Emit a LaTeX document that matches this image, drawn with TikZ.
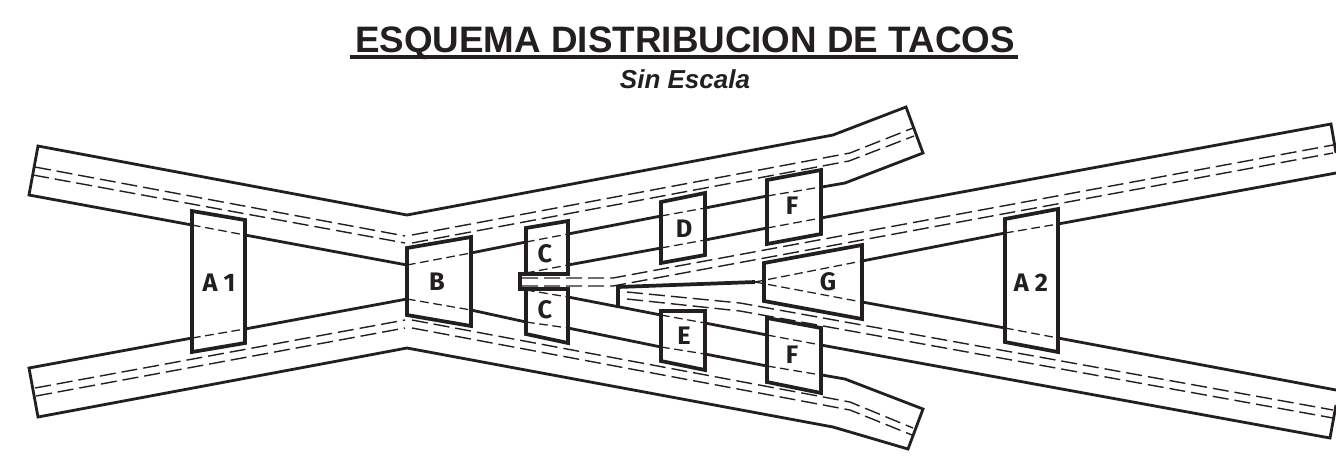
\documentclass[tikz,border=0pt]{standalone}
\usepackage{fontspec}
\setmainfont{Liberation Sans}
\newfontfamily\lblfont{Fira Sans}
\definecolor{ink}{HTML}{231F20}
\tikzset{x=0.75pt,y=-0.75pt,
  road/.style={draw=ink,line width=2.1pt,line join=miter},
  boxline/.style={draw=ink,line width=2.8pt,line join=miter},
  axisline/.style={draw=ink,line width=1.05pt,dash pattern=on 12pt off 4.5pt},
  inner/.style={draw=ink,line width=0.95pt,dash pattern=on 6.5pt off 3.5pt},
  lbl/.style={font=\lblfont\bfseries\fontsize{19}{20}\selectfont,text=ink,inner sep=0pt}}
\begin{document}
\begin{tikzpicture}
\useasboundingbox (0,0) rectangle (1336,462);
% titles
\node[font=\bfseries\fontsize{27.6}{30}\selectfont,text=ink,inner sep=0pt,anchor=base] (title) at (685,52) {ESQUEMA DISTRIBUCION DE TACOS};
\draw[draw=ink,line width=3pt] (350,57) -- (1018,57);
\node[font=\bfseries\itshape\fontsize{19.5}{22}\selectfont,text=ink,inner sep=0pt,anchor=base] (sub) at (685,88) {Sin Escala};
% outer road outlines
\draw[road] (192,225) -- (29,195) -- (38,146) -- (407,215) -- (833,135) -- (906,107) -- (923,153) -- (845,183) -- (822,187);
\draw[road] (245,235) -- (407,265);
\draw[road] (192,338) -- (29,368) -- (38,417) -- (407,348) -- (833,427) -- (908,449) -- (923,409) -- (845,379) -- (822,375);
\draw[road] (245,329) -- (407,299);
% upper branch
\draw[road] (471,253) -- (526,242);
\draw[road] (568,234) -- (661,216);
\draw[road] (705,208) -- (767,196);
% lower branch
\draw[road] (471,310) -- (526,322);
\draw[road] (568,328) -- (661,347);
\draw[road] (705,354) -- (767,366);
% through road, top side
\draw[road] (568,265) -- (661,248);
\draw[road] (705,240) -- (767,228);
\draw[road] (821,218) -- (1331,124) -- (1336,153);
\draw[road] (1336,173) -- (1058,224);
\draw[road] (1005,233) -- (862,261);
% through road, bottom side
\draw[road] (862,302) -- (1005,328);
\draw[road] (1058,338) -- (1336,390);
\draw[road] (1336,405) -- (1330,438) -- (821,345);
\draw[road] (767,335) -- (705,323);
\draw[road] (661,315) -- (568,297);
% centre wedge
\draw[boxline] (618,307) -- (618,287) -- (755,282);
% slit
\draw[boxline] (568,274) -- (520,274) -- (520,289) -- (568,289);
% double axis lines
\draw[axisline] (35,167) -- (405,236);
\draw[axisline] (33,175) -- (405,243);
\draw[axisline] (35,388) -- (405,320);
\draw[axisline] (36,396) -- (405,328);
\draw[axisline] (412,235) -- (850,153) -- (913,128);
\draw[axisline] (412,243) -- (849,161) -- (914,136);
\draw[axisline] (412,320) -- (850,402) -- (913,428);
\draw[axisline] (412,328) -- (850,410) -- (912,435);
\draw[axisline] (522,278) -- (613,278) -- (1333,145);
\draw[axisline] (522,286) -- (613,286) -- (1333,153);
\draw[axisline] (627,292) -- (740,303) -- (1333,410);
\draw[axisline] (627,299) -- (740,311) -- (1333,418);
% dashed road edges inside boxes
\draw[inner] (192,225) -- (245,235);
\draw[inner] (192,338) -- (245,329);
\draw[inner] (407,265) -- (471,253);
\draw[inner] (407,299) -- (471,310);
\draw[inner] (526,242) -- (568,234);
\draw[inner] (526,273) -- (568,265);
\draw[inner] (526,290) -- (568,297);
\draw[inner] (526,322) -- (568,328);
\draw[inner] (661,216) -- (705,208);
\draw[inner] (661,248) -- (705,240);
\draw[inner] (661,315) -- (705,323);
\draw[inner] (661,347) -- (705,354);
\draw[inner] (767,196) -- (821,187);
\draw[inner] (767,228) -- (821,218);
\draw[inner] (767,335) -- (821,345);
\draw[inner] (767,366) -- (821,375);
\draw[inner] (755,282) -- (862,261);
\draw[inner] (755,282) -- (862,302);
\draw[inner] (1005,233) -- (1058,224);
\draw[inner] (1005,328) -- (1058,338);
% boxes
\draw[boxline] (192,211) -- (245,220) -- (245,343) -- (192,352) -- cycle;
\draw[boxline] (407,248) -- (471,237) -- (471,326) -- (407,315) -- cycle;
\draw[boxline] (526,228) -- (568,221) -- (568,274) -- (526,274) -- cycle;
\draw[boxline] (526,289) -- (568,289) -- (568,343) -- (526,334) -- cycle;
\draw[boxline] (661,202) -- (705,193) -- (705,255) -- (661,263) -- cycle;
\draw[boxline] (661,311) -- (705,311) -- (705,370) -- (661,361) -- cycle;
\draw[boxline] (767,180) -- (821,170) -- (821,234) -- (767,244) -- cycle;
\draw[boxline] (767,318) -- (821,328) -- (821,393) -- (767,382) -- cycle;
\draw[boxline] (764,263) -- (862,245) -- (862,319) -- (764,301) -- cycle;
\draw[boxline] (1005,219) -- (1058,209) -- (1058,352) -- (1005,342) -- cycle;
% labels
\node[lbl] (la1) at (219,283) {A 1};
\node[lbl] (lb) at (437,282) {B};
\node[lbl] (lc1) at (545,254) {C};
\node[lbl] (lc2) at (545,310) {C};
\node[lbl] (ld) at (684,229) {D};
\node[lbl] (le) at (684,336) {E};
\node[lbl] (lf1) at (792,206) {F};
\node[lbl] (lf2) at (792,355) {F};
\node[lbl] (lg) at (828,282) {G};
\node[lbl] (la2) at (1031,283) {A 2};
\end{tikzpicture}
\end{document}
